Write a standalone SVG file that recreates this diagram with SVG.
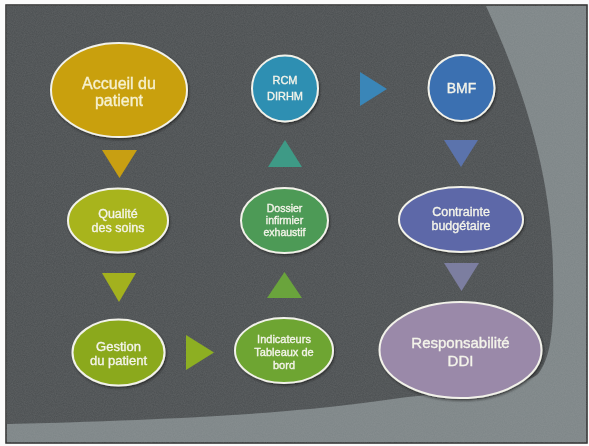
<svg xmlns="http://www.w3.org/2000/svg" width="589" height="446" viewBox="0 0 589 446">
  <defs>
    <style>
      .node { stroke: #f2f2ea; stroke-width: 2; }
      .lbl { font-family: "Liberation Sans", Arial, sans-serif; fill: #f4f4ea; stroke: #f4f4ea; stroke-width: 0.35; text-anchor: middle; }
      .conn { stroke: none; }
    </style>
    <filter id="grain" x="0" y="0" width="100%" height="100%">
      <feTurbulence type="fractalNoise" baseFrequency="0.9" numOctaves="2" seed="3" result="n"/>
      <feColorMatrix type="matrix" values="0 0 0 0 0.5  0 0 0 0 0.5  0 0 0 0 0.5  0 0 0 0.18 0"/>
    </filter>
    <filter id="shadow" x="-20%" y="-20%" width="140%" height="140%">
      <feDropShadow dx="1" dy="1.5" stdDeviation="1.2" flood-color="#1a1a1a" flood-opacity="0.7"/>
    </filter>
  </defs>

  <!-- page / slide background -->
  <rect x="0" y="0" width="589" height="446" fill="#fbfbfb"/>
  <rect x="6" y="5" width="581" height="438" fill="#7d8587" stroke="#2a2a2a" stroke-width="1.5"/>
  <path d="M7,6 L486,6 C520,80 552,170 553,270 C554,320 553,355 538,374 C522,388 460,391 400,398 C330,408 250,418 7,424 Z" fill="#4a4e50"/>
  <rect x="6" y="5" width="581" height="438" filter="url(#grain)"/>

  <!-- connectors (triangles) -->
  <g id="connectors" class="conn">
    <polygon points="102,150 137,150 119.5,178" fill="#c89f12"/>
    <polygon points="102,273 136,273 119,302" fill="#a3b11e"/>
    <polygon points="186,335 186,370 214,352.5" fill="#8daf22"/>
    <polygon points="267,298 302,298 284.5,272" fill="#6aa43c"/>
    <polygon points="268,167 302,167 285,140" fill="#3e9a86"/>
    <polygon points="360,72 360,106 387,89" fill="#3a86b8"/>
    <polygon points="444,140 478,140 461,167" fill="#5b73ac"/>
    <polygon points="444,263 479,263 461.5,291" fill="#7c7ea0"/>
  </g>

  <!-- nodes -->
  <g id="accueil" filter="url(#shadow)">
    <ellipse class="node" cx="119" cy="90" rx="68" ry="47" fill="#c9a00f"/>
    <text class="lbl" x="119" y="89" font-size="16" style="fill:#f6f1cf;stroke:#f6f1cf">Accueil du</text>
    <text class="lbl" x="119" y="106" font-size="16" style="fill:#f6f1cf;stroke:#f6f1cf">patient</text>
  </g>

  <g id="qualite" filter="url(#shadow)">
    <ellipse class="node" cx="118" cy="220.5" rx="50" ry="32" fill="#a8b41c"/>
    <text class="lbl" x="118" y="218" font-size="12.5">Qualité</text>
    <text class="lbl" x="118" y="232" font-size="12.5">des soins</text>
  </g>

  <g id="gestion" filter="url(#shadow)">
    <ellipse class="node" cx="118.5" cy="352.5" rx="46" ry="33" fill="#8ba91f"/>
    <text class="lbl" x="118.5" y="351" font-size="13">Gestion</text>
    <text class="lbl" x="118.5" y="365" font-size="13">du patient</text>
  </g>

  <g id="indicateurs" filter="url(#shadow)">
    <ellipse class="node" cx="284" cy="350.5" rx="49" ry="32.5" fill="#6ea532"/>
    <text class="lbl" x="284" y="343" font-size="11">Indicateurs</text>
    <text class="lbl" x="284" y="356" font-size="11">Tableaux de</text>
    <text class="lbl" x="284" y="369" font-size="11">bord</text>
  </g>

  <g id="dossier" filter="url(#shadow)">
    <ellipse class="node" cx="284.5" cy="220.5" rx="43.5" ry="32.5" fill="#4d9a56"/>
    <text class="lbl" x="284.5" y="212" font-size="10.5">Dossier</text>
    <text class="lbl" x="284.5" y="224" font-size="10.5">infirmier</text>
    <text class="lbl" x="284.5" y="236" font-size="10.5">exhaustif</text>
  </g>

  <g id="rcm" filter="url(#shadow)">
    <circle class="node" cx="285" cy="88.5" r="33" fill="#2f8fb2"/>
    <text class="lbl" x="285" y="84" font-size="11">RCM</text>
    <text class="lbl" x="285" y="100" font-size="11">DIRHM</text>
  </g>

  <g id="bmf" filter="url(#shadow)">
    <circle class="node" cx="461.5" cy="88" r="33" fill="#3b6fb1"/>
    <text class="lbl" x="461.5" y="93" font-size="14">BMF</text>
  </g>

  <g id="contrainte" filter="url(#shadow)">
    <ellipse class="node" cx="461" cy="219.5" rx="62" ry="32.5" fill="#5d68a8"/>
    <text class="lbl" x="461" y="216" font-size="12.5">Contrainte</text>
    <text class="lbl" x="461" y="230" font-size="12.5">budgétaire</text>
  </g>

  <g id="responsabilite" filter="url(#shadow)">
    <ellipse class="node" cx="460.5" cy="350" rx="81" ry="48" fill="#9a89a9"/>
    <text class="lbl" x="460.5" y="348" font-size="15">Responsabilité</text>
    <text class="lbl" x="460.5" y="366" font-size="15">DDI</text>
  </g>
</svg>
